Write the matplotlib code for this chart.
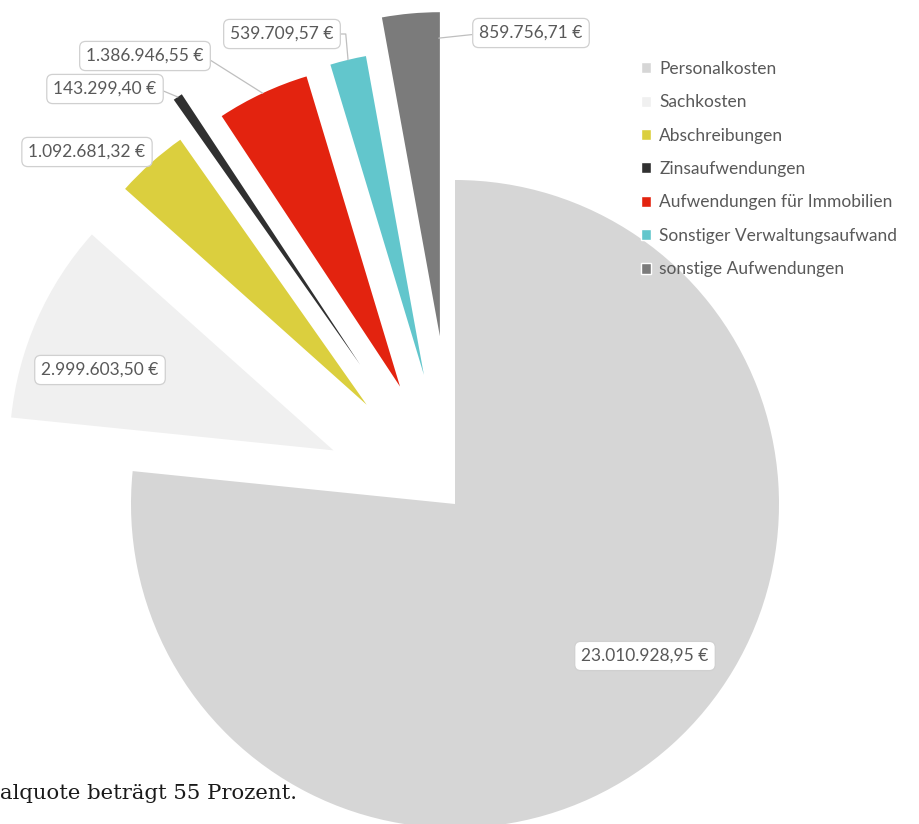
import numpy as np
import matplotlib.pyplot as plt
import matplotlib.patches as mpatches

kategorien = ['Personalkosten', 'Sachkosten', 'Abschreibungen', 'Zinsaufwendungen',
              'Aufwendungen für Immobilien', 'Sonstiger Verwaltungsaufwand', 'sonstige Aufwendungen']
betraege = [23010928.95, 2999603.50, 1092681.32, 143299.40, 1386946.55, 539709.57, 859756.71]
beschriftungen = ['23.010.928,95 €', '2.999.603,50 €', '1.092.681,32 €', '143.299,40 €',
                  '1.386.946,55 €', '539.709,57 €', '859.756,71 €']

farben = ['#D6D6D6', '#F0F0F0', '#DBCF3E', '#303030', '#E3230F', '#62C6CC', '#7B7B7B']
explode = [0, 0.41, 0.41, 0.52, 0.40, 0.41, 0.52]

# Layout in Pixeln (Bild 920x824), Kreismitte und Radius
W, H = 920, 824
CX, CY, R = 455, 504, 324

def px(x, y):
    return (x - CX) / R, (CY - y) / R

# Position der Beschriftungsboxen (Pixel)
label_pos = [(645, 656), (100, 370), (87, 152), (105, 89), (145, 56), (282, 34), (531, 33)]
# Führungslinien: (Anteil entlang Winkel, Anteil Radius, relpos an der Box) oder None
fuehrung = [None, None, None, (0.5, 1.0, (1, 0.55)), (0.5, 1.0, (1, 0.5)),
            (0.5, 1.0, (1, 0.5)), (0.02, 0.92, (0, 0.45))]

fig = plt.figure(figsize=(W / 100, H / 100), dpi=100)
ax = fig.add_axes([0, 0, 1, 1])

wedges, _ = ax.pie(betraege, colors=farben, explode=explode, startangle=90,
                   counterclock=False, radius=1, wedgeprops=dict(linewidth=0))

ax.set_xlim(-CX / R, (W - CX) / R)
ax.set_ylim(-(H - CY) / R, CY / R)
ax.set_aspect('equal')
ax.axis('off')

schrift = 'Lato'
for i, (w, txt) in enumerate(zip(wedges, beschriftungen)):
    bbox = dict(boxstyle='round,pad=0.38,rounding_size=0.35', fc='white', ec='#D0D0D0', lw=0.9)
    if fuehrung[i] is None:
        ax.text(*px(*label_pos[i]), txt, ha='center', va='center', fontsize=12.5,
                family=schrift, color='#595959', bbox=bbox, zorder=5)
    else:
        t, rf, rel = fuehrung[i]
        ang = np.radians(w.theta1 + t * (w.theta2 - w.theta1))
        anker = (w.center[0] + rf * w.r * np.cos(ang), w.center[1] + rf * w.r * np.sin(ang))
        stil = 'angle,angleA=0,angleB=95,rad=0' if i == 5 else 'arc3'
        ax.annotate(txt, xy=anker, xytext=px(*label_pos[i]), ha='center', va='center',
                    fontsize=12.5, family=schrift, color='#595959', bbox=bbox, zorder=5,
                    arrowprops=dict(arrowstyle='-', color='#BFBFBF', lw=0.9, relpos=rel,
                                    shrinkA=0, shrinkB=0, connectionstyle=stil))

handles = [mpatches.Patch(facecolor=c, edgecolor='white', lw=1) for c in farben]
ax.legend(handles, kategorien, loc='upper left', bbox_to_anchor=(641 / W, 1 - 61 / H),
          bbox_transform=fig.transFigure, frameon=False, prop=dict(family=schrift, size=12.5),
          labelcolor='#595959', handlelength=0.6, handleheight=0.6, handletextpad=0.45,
          labelspacing=1.0, borderpad=0, borderaxespad=0)

fig.text(0.5 / W, 1 - 799 / H, 'alquote beträgt 55 Prozent.', family='DejaVu Serif',
         fontsize=15.3, color='#1A1A1A', va='baseline', ha='left')

fig.savefig('out.png', dpi=100)
